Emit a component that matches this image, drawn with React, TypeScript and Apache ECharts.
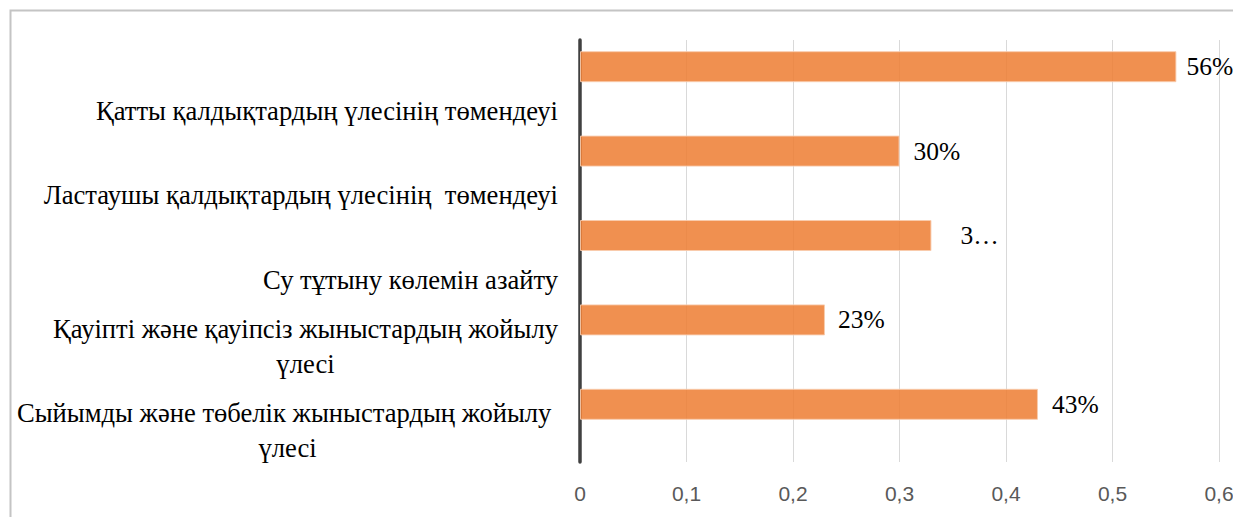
import React, { useEffect, useRef } from "react";
import * as echarts from "echarts";

const categories: string[] = [
  "Қатты қалдықтардың үлесінің төмендеуі",
  "Ластаушы қалдықтардың үлесінің  төмендеуі",
  "Су тұтыну көлемін азайту",
  "Қауіпті және қауіпсіз жыныстардың жойылу\nүлесі",
  "Сыйымды және төбелік жыныстардың жойылу \nүлесі",
];
const values: number[] = [0.56, 0.3, 0.33, 0.23, 0.43];
const valueLabels: string[] = ["56%", "30%", "3…", "23%", "43%"];
const labelDistances: number[] = [10, 14, 29, 13, 14];
const xTicks = { min: 0, max: 0.6, interval: 0.1 };

const SERIF = "Liberation Serif";
const SANS = "Liberation Sans";

export default function App() {
  const ref = useRef<HTMLDivElement>(null);
  useEffect(() => {
    if (!ref.current) return;
    const chart = echarts.init(ref.current, undefined, { renderer: "svg" });
    chart.setOption({
      animation: false,
      backgroundColor: "#ffffff",
      textStyle: { fontFamily: SERIF },
      graphic: [
        {
          type: "rect",
          left: 0,
          top: 0,
          shape: { x: 1, y: 3, width: 1400, height: 700 },
          style: { fill: "none", stroke: "#c4c4c4", lineWidth: 2 },
          silent: true,
          z: -10,
        },
      ],
      grid: { left: 572, right: 22, top: 32, bottom: 55, containLabel: false },
      xAxis: {
        type: "value",
        min: xTicks.min,
        max: xTicks.max,
        interval: xTicks.interval,
        axisLine: { show: false },
        axisTick: { show: false },
        splitLine: { show: true, lineStyle: { color: "#d9d9d9", width: 1 } },
        axisLabel: {
          margin: 21,
          color: "#595959",
          fontFamily: SANS,
          fontSize: 21,
          formatter: (v: number) => String(Math.round(v * 10) / 10).replace(".", ","),
        },
      },
      yAxis: {
        type: "category",
        inverse: true,
        data: categories,
        axisTick: { show: false },
        axisLine: { show: true, lineStyle: { color: "#404040", width: 3.5 } },
        axisLabel: {
          interval: 0,
          hideOverlap: false,
          margin: 22,
          lineHeight: 35,
          fontSize: 26.6,
          fontFamily: SERIF,
          color: "#000000",
          verticalAlign: "middle",
          padding: [22, 0, 0, 0],
          formatter: (v: string) => {
            const lines = v.split("\n");
            if (lines.length === 1) return "\n{c|" + lines[0] + "}";
            return lines.map((l) => "{c|" + l + "}").join("\n");
          },
          rich: {
            c: {
              align: "center",
              lineHeight: 35,
              fontSize: 26.6,
              fontFamily: SERIF,
              color: "#000000",
            },
          },
        },
      },
      series: [
        {
          type: "bar",
          name: "main",
          barWidth: 31,
          barGap: "0%",
          itemStyle: {
            color: "rgba(237,125,49,0.85)",
            borderColor: "rgba(248,203,173,0.9)",
            borderWidth: 1,
          },
          data: values.map((v, i) => ({
            value: v,
            label: {
              show: true,
              position: "right",
              distance: labelDistances[i],
              formatter: () => valueLabels[i],
              fontFamily: SERIF,
              fontSize: 25.5,
              color: "#000000",
            },
          })),
        },
        {
          type: "bar",
          name: "pad",
          barWidth: 31,
          barGap: "0%",
          silent: true,
          data: values.map(() => null),
        },
      ],
    });
    return () => chart.dispose();
  }, []);
  return <div ref={ref} style={{ width: 1233, height: 509 }} />;
}
